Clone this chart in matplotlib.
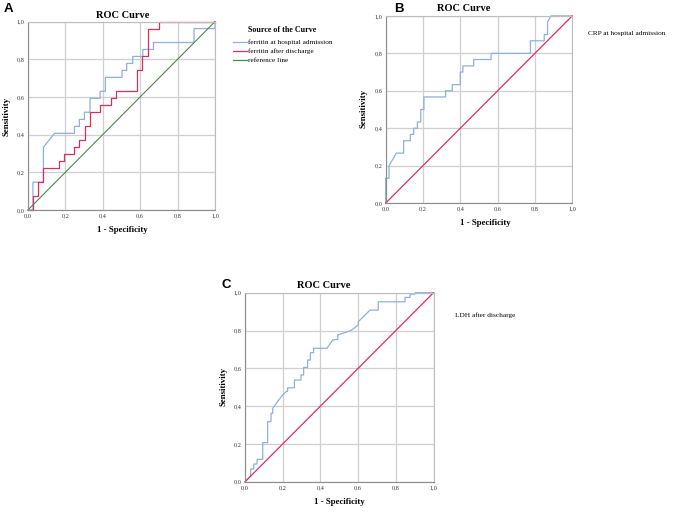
import matplotlib
matplotlib.use("Agg")
import matplotlib.pyplot as plt
from matplotlib.ticker import FuncFormatter

plt.rcParams['font.family'] = ['Liberation Serif', 'DejaVu Serif']

# Panel A: ferritin curves (1 - specificity, sensitivity)
a_adm_fpr = [0, 0.027, 0.027, 0.083, 0.083, 0.142, 0.249, 0.249, 0.275, 0.275, 0.302, 0.302,
             0.332, 0.332, 0.386, 0.386, 0.414, 0.414, 0.503, 0.503, 0.528, 0.528, 0.56, 0.56,
             0.614, 0.614, 0.671, 0.671, 0.888, 0.888, 1.0, 1.0]
a_adm_tpr = [0, 0, 0.148, 0.148, 0.333, 0.407, 0.407, 0.444, 0.444, 0.481, 0.481, 0.519,
             0.519, 0.593, 0.593, 0.630, 0.630, 0.704, 0.704, 0.741, 0.741, 0.778, 0.778, 0.815,
             0.815, 0.852, 0.852, 0.889, 0.889, 0.963, 0.963, 1.0]
a_dis_fpr = [0, 0.027, 0.027, 0.056, 0.056, 0.083, 0.083, 0.165, 0.165, 0.191, 0.191, 0.249,
             0.249, 0.275, 0.275, 0.305, 0.305, 0.332, 0.332, 0.386, 0.386, 0.445, 0.445, 0.471,
             0.471, 0.585, 0.585, 0.612, 0.612, 0.640, 0.640, 0.701, 0.701, 1.0]
a_dis_tpr = [0, 0, 0.074, 0.074, 0.148, 0.148, 0.222, 0.222, 0.259, 0.259, 0.296, 0.296,
             0.333, 0.333, 0.370, 0.370, 0.444, 0.444, 0.519, 0.519, 0.556, 0.556, 0.593, 0.593,
             0.630, 0.630, 0.741, 0.741, 0.815, 0.815, 0.963, 0.963, 1.0, 1.0]
a_labels = ['ferritin at hospital admission', 'ferritin after discharge', 'reference line']

# Panel B: CRP at hospital admission
b_fpr = [0, 0, 0.018, 0.018, 0.057, 0.096, 0.096, 0.132, 0.132, 0.150, 0.150, 0.170, 0.170,
         0.188, 0.188, 0.205, 0.205, 0.321, 0.321, 0.357, 0.357, 0.400, 0.400, 0.414, 0.414,
         0.472, 0.472, 0.565, 0.565, 0.776, 0.776, 0.850, 0.850, 0.868, 0.868, 0.886, 1.0]
b_tpr = [0, 0.133, 0.133, 0.2, 0.267, 0.267, 0.333, 0.333, 0.367, 0.367, 0.4, 0.4, 0.433,
         0.433, 0.5, 0.5, 0.567, 0.567, 0.6, 0.6, 0.633, 0.633, 0.7, 0.7, 0.733,
         0.733, 0.767, 0.767, 0.8, 0.8, 0.867, 0.867, 0.9, 0.9, 0.967, 1.0, 1.0]

# Panel C: LDH after discharge
c_fpr = [0, 0.03, 0.03, 0.046, 0.046, 0.064, 0.064, 0.094, 0.094, 0.12, 0.12, 0.138, 0.138,
         0.147, 0.147, 0.17, 0.2, 0.22, 0.226, 0.226, 0.262, 0.262, 0.297, 0.297, 0.311, 0.311,
         0.332, 0.332, 0.347, 0.347, 0.364, 0.364, 0.435, 0.465, 0.492, 0.492, 0.562, 0.601,
         0.601, 0.619, 0.663, 0.707, 0.707, 0.849, 0.849, 0.876, 0.876, 0.902, 0.902, 1.0]
c_tpr = [0, 0.03, 0.068, 0.068, 0.094, 0.094, 0.119, 0.119, 0.207, 0.207, 0.318, 0.318, 0.362,
         0.362, 0.388, 0.42, 0.46, 0.478, 0.478, 0.497, 0.497, 0.538, 0.538, 0.565, 0.565, 0.605,
         0.605, 0.644, 0.644, 0.683, 0.683, 0.706, 0.706, 0.75, 0.753, 0.776, 0.80, 0.829,
         0.847, 0.864, 0.908, 0.908, 0.952, 0.952, 0.975, 0.975, 0.993, 0.993, 1.0, 1.0]

ticks = [0.0, 0.2, 0.4, 0.6, 0.8, 1.0]

BLUE = '#8cb0e0'
RED = '#d6305f'
GREEN = '#4a8a45'
W, H = 676, 514

fig = plt.figure(figsize=(W / 100, H / 100), dpi=100)


def px(x, y):
    # pixel position -> figure fraction
    return x / W, 1 - y / H


def make_axes(left, top, right, bottom):
    ax = fig.add_axes([left / W, 1 - bottom / H, (right - left) / W, (bottom - top) / H])
    ax.set_xlim(0, 1)
    ax.set_ylim(0, 1)
    ax.set_xticks(ticks)
    ax.set_yticks(ticks)
    fmt = FuncFormatter(lambda v, p: ('%.1f' % v).replace('.', ','))
    ax.xaxis.set_major_formatter(fmt)
    ax.yaxis.set_major_formatter(fmt)
    ax.tick_params(length=0, labelsize=4.5, pad=2.5, colors='#333333')
    ax.grid(True, color='#cfcfcf', linewidth=0.9)
    ax.set_axisbelow(True)
    for side in ax.spines:
        ax.spines[side].set_color('#bdbdbd')
        ax.spines[side].set_linewidth(0.8)
    ax.spines['left'].set_color('#8a8a8a')
    ax.spines['bottom'].set_color('#8a8a8a')
    return ax


def add_labels(title_xy, xlabel_xy, ylabel_xy, letter, letter_xy):
    fig.text(*px(*title_xy), 'ROC Curve', fontsize=7.5, fontweight='bold', ha='center', va='center')
    fig.text(*px(*xlabel_xy), '1 - Specificity', fontsize=6.3, fontweight='bold', ha='center', va='center')
    fig.text(*px(*ylabel_xy), 'Sensitivity', fontsize=6.3, fontweight='bold', ha='center', va='center',
             rotation=90)
    fig.text(*px(*letter_xy), letter, fontsize=9.5, fontweight='bold', ha='center', va='center',
             family=['Liberation Sans', 'DejaVu Sans'])


# A
axA = make_axes(27.9, 21.6, 215, 210)
a_lines = [
    axA.plot(a_adm_fpr, a_adm_tpr, color=BLUE, lw=0.9, clip_on=False)[0],
    axA.plot(a_dis_fpr, a_dis_tpr, color=RED, lw=0.9, clip_on=False)[0],
    axA.plot([0, 1], [0, 1], color=GREEN, lw=0.8, clip_on=False)[0],
]
add_labels((122.5, 15), (122, 230.5), (6.5, 116), 'A', (8, 8.5))

# legend of panel A, laid out by hand to follow the SPSS layout
fig.text(*px(248, 30), 'Source of the Curve', fontsize=5.8, fontweight='bold', ha='left', va='center')
for i, (line, lab) in enumerate(zip(a_lines, a_labels)):
    y = 42 + 9 * i
    fig.add_artist(plt.Line2D([233 / W, 246.5 / W], [1 - y / H, 1 - y / H],
                              color=line.get_color(), lw=0.9))
    fig.text(*px(248, y), lab, fontsize=5.2, ha='left', va='center')

# B
axB = make_axes(385.7, 15.9, 572.2, 203.1)
axB.plot(b_fpr, b_tpr, color=BLUE, lw=0.9, clip_on=False)
axB.plot([0, 1], [0, 1], color=RED, lw=0.9, clip_on=False)
add_labels((463.3, 8.3), (485.8, 223.3), (364, 109), 'B', (399, 8.5))
fig.text(*px(588, 33.5), 'CRP at hospital admission', fontsize=5.2, ha='left', va='center')

# C
axC = make_axes(245, 292.7, 433.5, 481.8)
axC.plot(c_fpr, c_tpr, color=BLUE, lw=0.9, clip_on=False)
axC.plot([0, 1], [0, 1], color=RED, lw=0.9, clip_on=False)
add_labels((323.7, 285), (339, 502.3), (223.3, 386.7), 'C', (226, 284.5))
fig.text(*px(455, 315), 'LDH after discharge', fontsize=5.2, ha='left', va='center')

fig.savefig('out.png', dpi=100)
